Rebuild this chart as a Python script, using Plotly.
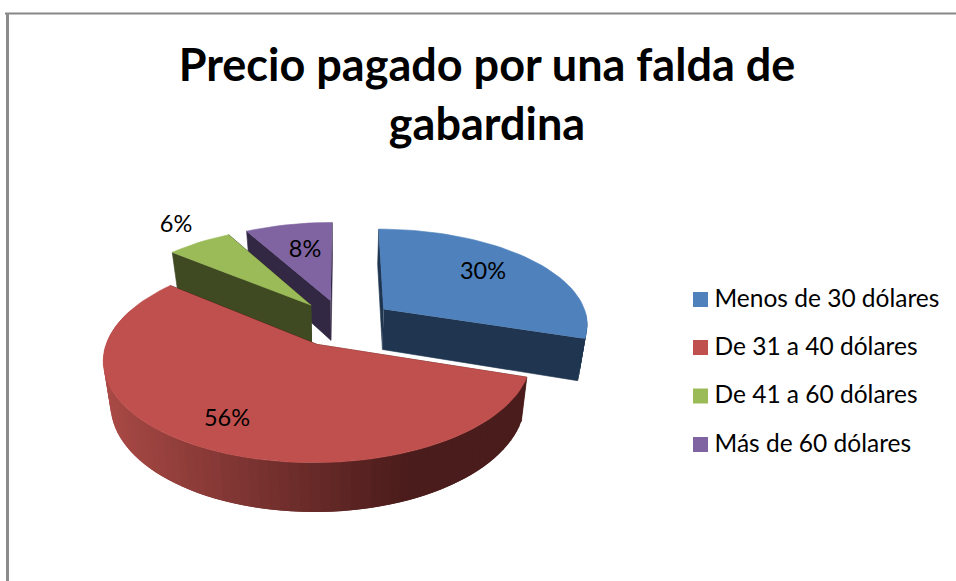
"""Precio pagado por una falda de gabardina: exploded 3D pie drawn with filled scatter polygons."""
import numpy as np
import plotly.graph_objects as go

CATEGORIES = ["Menos de 30 dólares", "De 31 a 40 dólares", "De 41 a 60 dólares", "Más de 60 dólares"]
VALUES = [30, 56, 6, 8]
TITLE = "Precio pagado por una falda de<br>gabardina"

COLORS = ["#4f81bd", "#c0504d", "#9bbb59", "#8064a2"]
CUT_COLORS = ["#1f3550", "#4a1c1b", "#3f4a22", "#332843"]
DRAW_ORDER = [3, 2, 0, 1]
LABEL_POS = [(483, 273), (227, 420), (176, 226), (305, 251)]

# projection of the pie, in page pixels
CX, CY = 343, 323
RX, RY = 205, 95
PERSP = 0.14
DEPTH = 41
TAPER = 0.03
EXPLODE = 0.25


def project(u, v):
    s = 1 / (1 - PERSP * v)
    return CX + RX * u * s, CY + RY * v * s


def project_low(u, v):
    s = 1 / (1 - PERSP * v)
    x = CX + RX * u * s
    return CX + (x - CX) * (1 - TAPER), CY + (RY * v + DEPTH) * s


def poly(fig, xs, ys, color, name=None, edge=0.6):
    fig.add_trace(go.Scatter(
        x=np.asarray(xs).tolist(), y=np.asarray(ys).tolist(), mode="lines", fill="toself",
        fillcolor=color, line=dict(color=color, width=edge),
        showlegend=False, name=name or "", hoverinfo="text" if name else "skip", text=name,
    ))


def wall_color(i, x):
    if i != 1:
        return CUT_COLORS[i]
    t = min(max((x - 105) / 310, 0), 1)
    c0, c1 = np.array([170, 74, 70]), np.array([74, 28, 27])
    r, g, b = (c0 + (c1 - c0) * t).astype(int)
    return f"rgb({r},{g},{b})"


fig = go.Figure()

total = sum(VALUES)
bounds = np.cumsum([0] + VALUES) / total * 2 * np.pi

for i in DRAW_ORDER:
    a0, a1 = bounds[i], bounds[i + 1]
    mid = (a0 + a1) / 2
    ou, ov = EXPLODE * np.sin(mid), -EXPLODE * np.cos(mid)
    ang = np.linspace(a0, a1, max(8, int((a1 - a0) * 24)))
    u = ou + np.sin(ang)
    v = ov - np.cos(ang)

    # cut faces
    for k in (0, -1):
        tx, ty = project(np.array([ou, u[k]]), np.array([ov, v[k]]))
        lx, ly = project_low(np.array([ou, u[k]]), np.array([ov, v[k]]))
        poly(fig, [*tx, *lx[::-1]], [*ty, *ly[::-1]], CUT_COLORS[i])

    # outer wall: overlapping strips, each painted over by the next, so no seams show
    for j in range(len(ang) - 1):
        if v[j] < -0.05 and v[j + 1] < -0.05:
            continue
        tx, ty = project(u[j:j + 3], v[j:j + 3])
        lx, ly = project_low(u[j:j + 3], v[j:j + 3])
        poly(fig, [*tx, *lx[::-1]], [*ty, *ly[::-1]], wall_color(i, tx[0]), edge=0)

    # top face
    tx, ty = project(np.r_[ou, u], np.r_[ov, v])
    poly(fig, tx, ty, COLORS[i], name=f"{CATEGORIES[i]}: {VALUES[i]}%")

# data labels
fig.add_trace(go.Scatter(
    x=[p[0] for p in LABEL_POS], y=[p[1] for p in LABEL_POS], mode="text",
    text=[f"{v}%" for v in VALUES], textposition="middle center",
    textfont=dict(family="Lato", size=23.5, color="#000000"),
    showlegend=False, hoverinfo="skip",
))

# legend
leg_y = [299.5, 347.5, 396, 444.5]
fig.add_trace(go.Scatter(
    x=[700.5] * 4, y=leg_y, mode="markers",
    marker=dict(symbol="square", size=15, color=COLORS),
    showlegend=False, hoverinfo="skip",
))
fig.add_trace(go.Scatter(
    x=[714.5] * 4, y=[y + 1 for y in leg_y], mode="text", text=CATEGORIES, textposition="middle right",
    textfont=dict(family="Lato", size=24.5, color="#000000"),
    showlegend=False, hoverinfo="skip",
))

# sheet frame at the top and left
fig.add_shape(type="line", x0=5, x1=956, y0=13.5, y1=13.5, line=dict(color="#888888", width=2))
fig.add_shape(type="line", x0=7.5, x1=7.5, y0=13, y1=581, line=dict(color="#8c8c8c", width=3))

fig.update_xaxes(range=[0, 956], visible=False, domain=[0, 1], fixedrange=True)
fig.update_yaxes(range=[581, 0], visible=False, domain=[0, 1], fixedrange=True)
fig.update_layout(
    title=dict(text=TITLE, x=487 / 956, xanchor="center", y=1 - 81 / 581, yanchor="top",
               font=dict(family="Lato", size=45, color="#000000", weight="bold")),
    width=956, height=581, autosize=False,
    margin=dict(l=0, r=0, t=0, b=0),
    plot_bgcolor="white", paper_bgcolor="white",
    showlegend=False,
)

fig.write_html("out.html", config=dict(displayModeBar=False),
               post_script="document.body.style.margin='0';")
